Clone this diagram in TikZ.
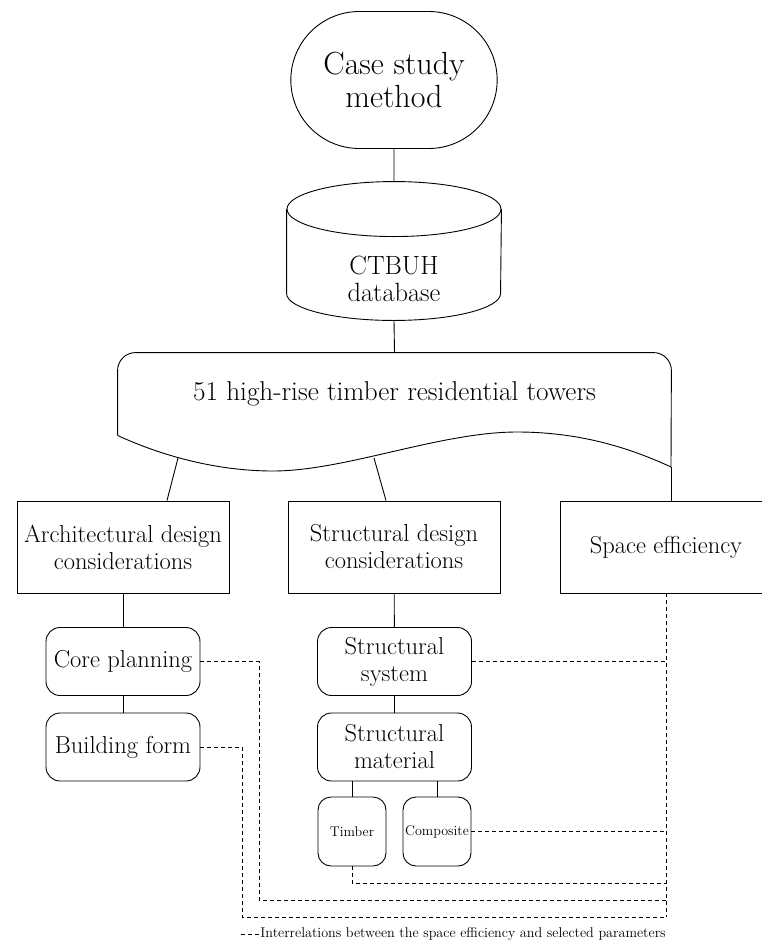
\documentclass[tikz,border=0pt]{standalone}
\usepackage{fontspec}
\usetikzlibrary{positioning, shapes.misc, calc}

\tikzset{
    bigbox/.style={draw, minimum width=212pt, minimum height=92pt, align=center,
                   font=\fontsize{24.5}{27}\selectfont},
    itembox/.style={draw, rounded corners=14pt, minimum width=154pt, minimum height=68pt,
                    align=center, font=\fontsize{24.5}{27}\selectfont},
    smallbox/.style={draw, rounded corners=13pt, minimum width=68pt, minimum height=69pt,
                     inner sep=1pt, font=\fontsize{14}{16}\selectfont},
    relation/.style={dash pattern=on 4pt off 3pt},
}

\begin{document}
\begin{tikzpicture}[x=1pt, y=-1pt, line width=0.9pt]
    \useasboundingbox (0,0) rectangle (762,943);

    \node[rounded rectangle, draw, minimum width=213pt, minimum height=137pt, align=center,
          font=\fontsize{32}{33}\selectfont] (method) at (394,80) {Case study\\method};

    % database cylinder
    \node[minimum width=214pt, minimum height=83pt, inner sep=0pt, align=center,
          font=\fontsize{26.4}{27}\selectfont] (ctbuh) at (394,278.5) {CTBUH\\database};
    \coordinate (dbtop) at ([yshift=55pt]ctbuh.north);
    \draw ([yshift=27.5pt]ctbuh.north) ellipse[x radius=107pt, y radius=27.5pt];
    \draw ([yshift=27.5pt]ctbuh.north west) -- ([yshift=27pt]ctbuh.south west)
        arc[start angle=180, end angle=360, x radius=107pt, y radius=27pt]
        -- ([yshift=27.5pt]ctbuh.north east);

    % document shape
    \node[minimum width=553pt, minimum height=82pt, inner sep=0pt,
          font=\fontsize{27.2}{30}\selectfont] (towers) at (394.5,394) {51 high-rise timber residential towers};
    \coordinate (w1) at (178,458);
    \coordinate (w2) at (374,458);
    \coordinate (w3) at (671,467);
    \draw[rounded corners=18pt] (towers.south west) -- (towers.north west) -- (towers.north east) -- (w3);
    \draw (towers.south west) .. controls (160,455) and (215,471) .. (273,471)
        .. controls (345,471) and (440,432) .. (517,432)
        .. controls (580,432) and (630,448) .. (w3);

    \node[bigbox] (arch) at (123,547) {Architectural design\\considerations};
    \node[bigbox] (struct) at (394,547) {Structural design\\considerations};
    \node[bigbox] (space) at (666,547) {Space efficiency};

    \node[itembox] (core) at (123,661.5) {Core planning};
    \node[itembox] (building) at (123,747) {Building form};
    \node[itembox] (system) at (394.5,661.5) {Structural\\system};
    \node[itembox] (material) at (394.5,747) {Structural\\material};
    \node[smallbox] (timber) at (352,831.5) {Timber};
    \node[smallbox] (composite) at (437,831.5) {Composite};

    \draw (method) -- (dbtop);
    \draw (ctbuh.south) -- (towers.north);
    \draw (w1) -- ([xshift=44pt]arch.north);
    \draw (w2) -- ([xshift=-8pt]struct.north);
    \draw (w3) -- (w3 |- space.north);
    \draw (arch) -- (core);
    \draw (core) -- (building);
    \draw (struct) -- (system);
    \draw (system) -- (material);
    \draw (material.south -| timber) -- (timber);
    \draw (material.south -| composite) -- (composite);

    % interrelations
    \draw[relation] (space.south) -- (space.south |- 0,917);
    \draw[relation] (core.east) -| (259,900) -- (space.south |- 0,900);
    \draw[relation] (building.east) -| (242,917) -- (space.south |- 0,917);
    \draw[relation] (system.east) -- (system.east -| space.south);
    \draw[relation] (composite.east) -- (composite.east -| space.south);
    \draw[relation] (timber.south) |- (space.south |- 0,883);

    \node[anchor=west, inner sep=1pt, font=\fontsize{14.15}{16}\selectfont] (key) at (259,934)
        {Interrelations between the space efficiency and selected parameters};
    \coordinate (keydash) at (241,934);
    \draw[relation] (keydash) -- (key.west);
\end{tikzpicture}
\end{document}
